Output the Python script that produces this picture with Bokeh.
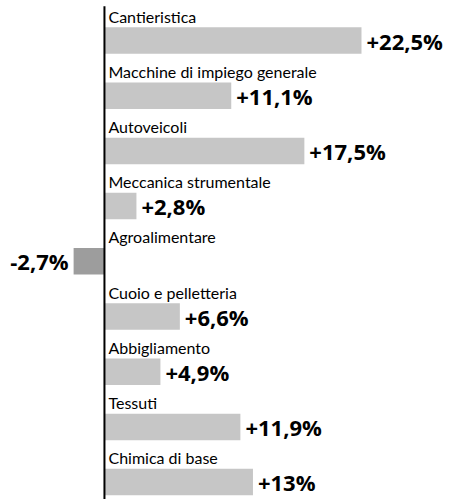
from bokeh.plotting import figure
from bokeh.models import Range1d, ColumnDataSource
from bokeh.core.properties import value
from bokeh.embed import file_html
from bokeh.resources import INLINE

categories = ["Cantieristica", "Macchine di impiego generale", "Autoveicoli",
              "Meccanica strumentale", "Agroalimentare", "Cuoio e pelletteria",
              "Abbigliamento", "Tessuti", "Chimica di base"]
values = [22.5, 11.1, 17.5, 2.8, -2.7, 6.6, 4.9, 11.9, 13.0]
value_labels = ["+22,5%", "+11,1%", "+17,5%", "+2,8%", "-2,7%", "+6,6%",
                "+4,9%", "+11,9%", "+13%"]

idx = list(range(len(categories)))
pos = [v >= 0 for v in values]

src_pos = ColumnDataSource(dict(
    y=[i for i, p_ in zip(idx, pos) if p_],
    v=[v for v, p_ in zip(values, pos) if p_],
    lab=[l for l, p_ in zip(value_labels, pos) if p_]))
src_neg = ColumnDataSource(dict(
    y=[i for i, p_ in zip(idx, pos) if not p_],
    v=[v for v, p_ in zip(values, pos) if not p_],
    lab=[l for l, p_ in zip(value_labels, pos) if not p_]))
src_cat = ColumnDataSource(dict(y=idx, cat=categories, x=[0] * len(idx)))

p = figure(width=451, height=499, output_backend="svg", toolbar_location=None,
           x_range=Range1d(-9.1, 30.38), y_range=Range1d(8.315, -0.725),
           min_border=0)
p.axis.visible = False
p.grid.visible = False
p.outline_line_color = None
p.background_fill_color = "white"
p.border_fill_color = "white"

bar_h = 0.48
p.hbar(y="y", left=0, right="v", height=bar_h, source=src_pos,
       fill_color="#c6c6c6", line_color=None)
p.hbar(y="y", left="v", right=0, height=bar_h, source=src_neg,
       fill_color="#9d9d9d", line_color=None)

# axis line
p.segment(x0=[0], y0=[-0.62], x1=[0], y1=[8.315], line_color="black", line_width=2)

p.text(x="x", y="y", text="cat", source=src_cat, x_offset=4, y_offset=-15,
       text_baseline="bottom", text_align="left", text_font=value("Lato"),
       text_font_size="16px", text_color="black")

p.text(x="v", y="y", text="lab", source=src_pos, x_offset=5, y_offset=0,
       text_baseline="middle", text_align="left", text_font=value("Open Sans"),
       text_font_style="bold", text_font_size="22px", text_color="black")
p.text(x="v", y="y", text="lab", source=src_neg, x_offset=-5, y_offset=0,
       text_baseline="middle", text_align="right", text_font=value("Open Sans"),
       text_font_style="bold", text_font_size="22px", text_color="black")

open("out.html", "w").write(file_html(p, INLINE))
